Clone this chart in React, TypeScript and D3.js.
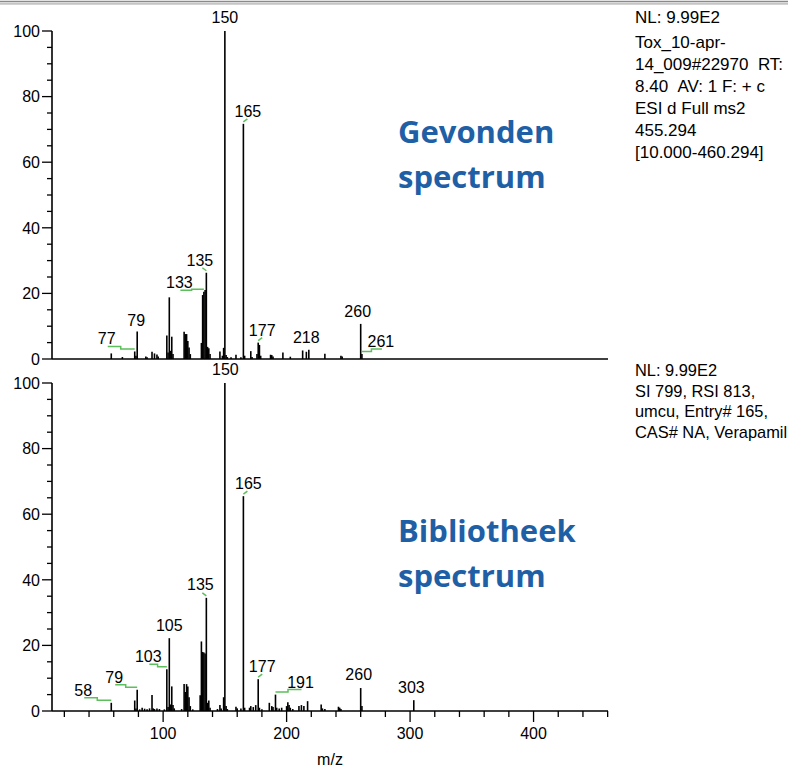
import React from 'react';
import * as d3 from 'd3';

// ---- Data -------------------------------------------------------------
// Found (measured) spectrum: [m/z, relative intensity %]
const foundPeaks: [number, number][] = [
  [58, 1.7], [67, 0.6], [77, 2.3], [78, 1.0], [79, 8.4], [86, 0.8], [87, 0.5],
  [91, 2.2], [93, 1.7], [95, 1.4], [96, 0.8], [103, 7.2], [104, 2.0], [105, 18.8],
  [106, 2.5], [107, 6.8], [108, 1.5], [117, 8.3], [118, 7.6], [119, 7.6], [120, 5.5],
  [121, 3.5], [122, 1.5], [131, 4.9], [132, 19.5], [133, 20.5], [134, 21.0], [135, 26.3],
  [136, 3.7], [137, 3.3], [138, 1.5], [146, 2.3], [148, 1.0], [149, 3.4], [150, 100],
  [151, 1.2], [152, 0.6], [155, 0.5], [159, 1.3], [163, 0.5], [165, 71.7], [166, 1.0],
  [171, 2.4], [172, 0.6], [176, 1.5], [177, 5.0], [178, 4.3], [179, 1.0], [187, 1.3],
  [188, 1.2], [189, 0.8], [197, 2.0], [203, 0.7], [213, 2.6], [216, 2.2], [218, 2.8],
  [231, 1.6], [244, 1.0], [245, 0.8], [260, 10.7], [261, 1.5],
];

// Library spectrum
const libraryPeaks: [number, number][] = [
  [58, 2.5], [77, 3.2], [78, 0.8], [79, 6.5], [81, 0.5], [83, 1.0], [85, 0.7], [87, 0.5],
  [89, 0.8], [91, 4.9], [92, 0.8], [93, 0.6], [95, 0.8], [97, 0.6], [101, 0.5],
  [103, 12.7], [104, 1.2], [105, 22.2], [106, 2.0], [107, 7.5], [108, 1.8], [109, 0.8],
  [115, 0.6], [117, 8.2], [118, 5.8], [119, 8.2], [120, 7.5], [121, 4.2], [122, 1.5],
  [124, 0.5], [130, 4.8], [131, 21.2], [132, 18.0], [133, 17.8], [134, 17.5], [135, 34.5],
  [136, 2.5], [137, 3.2], [138, 1.0], [144, 0.6], [146, 1.8], [147, 0.8], [149, 4.2],
  [150, 100], [151, 1.5], [152, 0.6], [159, 1.3], [160, 0.8], [163, 0.8], [165, 65.5],
  [166, 1.0], [170, 1.0], [171, 1.5], [173, 1.2], [175, 1.8], [177, 9.7], [178, 1.0],
  [180, 0.5], [186, 2.5], [188, 1.5], [189, 1.2], [191, 5.0], [192, 1.0], [194, 0.8],
  [196, 1.0], [200, 1.5], [201, 2.7], [202, 1.8], [203, 1.0], [205, 0.6], [210, 1.5],
  [212, 1.8], [214, 1.5], [217, 3.0], [228, 2.0], [229, 0.8], [231, 0.6], [242, 1.3],
  [243, 1.0], [244, 0.6], [260, 7.0], [261, 1.5], [303, 3.3],
];

const foundLabels = [77, 79, 133, 135, 150, 165, 177, 218, 260, 261];
const libraryLabels = [58, 79, 103, 105, 135, 150, 165, 177, 191, 260, 303];

const yTicks = [0, 20, 40, 60, 80, 100];
const xTickLabels = [100, 200, 300, 400];

const foundInfo = [
  'NL: 9.99E2',
  'Tox_10-apr-',
  '14_009#22970\u00a0\u00a0RT:',
  '8.40\u00a0\u00a0AV: 1 F: + c',
  'ESI d Full ms2',
  '455.294',
  '[10.000-460.294]',
];
const libraryInfo = [
  'NL: 9.99E2',
  'SI 799, RSI 813,',
  'umcu, Entry# 165,',
  'CAS# NA, Verapamil',
];
const foundTitle = ['Gevonden', 'spectrum'];
const libraryTitle = ['Bibliotheek', 'spectrum'];
const xAxisTitle = 'm/z';

// ---- Layout ----------------------------------------------------------
type Leader = 'none' | 'tick' | 'step';
const foundLabelLayout: Record<number, { dx: number; dy?: number; leader: Leader }> = {
  77: { dx: -28, leader: 'step' },
  79: { dx: -1, dy: -5.5, leader: 'none' },
  133: { dx: -24.5, dy: -3.5, leader: 'step' },
  135: { dx: -6.5, leader: 'tick' },
  150: { dx: 0, dy: -8.5, leader: 'none' },
  165: { dx: 4.5, leader: 'tick' },
  177: { dx: 4, leader: 'tick' },
  218: { dx: -2.5, leader: 'none' },
  260: { dx: -3, leader: 'none' },
  261: { dx: 19, leader: 'step' },
};
const libraryLabelLayout: Record<number, { dx: number; dy?: number; leader: Leader }> = {
  58: { dx: -28, leader: 'step' },
  79: { dx: -23, leader: 'step' },
  103: { dx: -18.5, leader: 'step' },
  105: { dx: 0, leader: 'none' },
  135: { dx: -6, dy: -7.8, leader: 'tick' },
  150: { dx: 0.5, dy: -8, leader: 'none' },
  165: { dx: 5, dy: -7.5, leader: 'tick' },
  177: { dx: 4, leader: 'tick' },
  191: { dx: 25, leader: 'step' },
  260: { dx: -2, dy: -8, leader: 'none' },
  303: { dx: -2.4, dy: -7.5, leader: 'none' },
};

const W = 788;
const H = 768;
const X0 = 52;
const X1 = 608;
const FONT = '"Liberation Sans", Arial, sans-serif';
const GREEN = '#5cbf5c';
const BLUE = '#1f5fa6';

const x = d3.scaleLinear().domain([10, 460.294]).range([X0, X1]);

function Panel({
  peaks, labels, layout, y, showXAxis,
}: {
  peaks: [number, number][];
  labels: number[];
  layout: Record<number, { dx: number; dy?: number; leader: Leader }>;
  y: d3.ScaleLinear<number, number>;
  showXAxis: boolean;
}) {
  const minorY = d3.range(0, 101, 5);
  const base = y(0);
  const top = y(100);
  const intensity = new Map(peaks.map((p) => [p[0], p[1]]));
  const minorX = d3.range(20, 461, 20);
  return (
    <g>
      {/* peaks */}
      {peaks.map(([mz, v]) => (
        <line key={mz} x1={x(mz)} x2={x(mz)} y1={base} y2={y(v)} stroke="#000" strokeWidth={1.6} />
      ))}
      {/* axes */}
      <line x1={X0} x2={X0} y1={top} y2={base} stroke="#000" strokeWidth={1.6} />
      <line x1={X0} x2={X1} y1={base} y2={base} stroke="#000" strokeWidth={1.6} />
      {minorY.map((t) => (
        <line key={'ym' + t} x1={t % 20 === 0 ? X0 - 10 : X0 - 5} x2={X0} y1={y(t)} y2={y(t)} stroke="#000" strokeWidth={1.3} />
      ))}
      {yTicks.map((t) => (
        <text key={'yl' + t} x={X0 - 12} y={y(t)} dy="0.36em" textAnchor="end" fontFamily={FONT} fontSize={16} fill="#000">{t}</text>
      ))}
      {showXAxis && minorX.map((t) => (
        <line key={'xm' + t} x1={x(t)} x2={x(t)} y1={base} y2={base + (t % 100 === 0 ? 11 : 6)} stroke="#000" strokeWidth={1.3} />
      ))}
      {showXAxis && xTickLabels.map((t) => (
        <text key={'xl' + t} x={x(t)} y={base + 28} textAnchor="middle" fontFamily={FONT} fontSize={16} fill="#000">{t}</text>
      ))}
      {/* labels */}
      {labels.map((mz) => {
        const l = layout[mz];
        const px = x(mz);
        const pt = y(intensity.get(mz) ?? 0);
        const lx = px + l.dx;
        const ly = pt + (l.dy ?? -7);
        let leader: React.ReactNode = null;
        if (l.leader === 'tick') {
          const pts = l.dx < 0
            ? [[px - 4, pt - 5], [px, pt - 2]]
            : [[px, pt - 2], [px + 4, pt - 5]];
          leader = <polyline points={pts.map((p) => p.join(',')).join(' ')} fill="none" stroke={GREEN} strokeWidth={1.5} />;
        } else if (l.leader === 'step') {
          const mid = (lx + px) / 2;
          const yl = ly + 2;
          const yp = pt - 2.5;
          const pts = l.dx < 0
            ? [[lx + 1, yl], [mid, yl], [mid, yp], [px, yp]]
            : [[px, yp], [mid, yp], [mid, yl], [lx + 1, yl]];
          leader = <polyline points={pts.map((p) => p.join(',')).join(' ')} fill="none" stroke={GREEN} strokeWidth={1.5} />;
        }
        return (
          <g key={'lab' + mz}>
            {leader}
            <text x={lx} y={ly} textAnchor="middle" fontFamily={FONT} fontSize={16} fill="#000">{mz}</text>
          </g>
        );
      })}
    </g>
  );
}

export default function App() {
  const yTop = d3.scaleLinear().domain([0, 100]).range([359, 31]);
  const yBottom = d3.scaleLinear().domain([0, 100]).range([711, 383]);
  return (
    <svg width={W} height={H} style={{ position: 'absolute', left: 0, top: 0, background: '#fff' }}>
      <rect x={0} y={0} width={W} height={H} fill="#fff" />
      {/* window frame */}
      <line x1={0} x2={W} y1={1.5} y2={1.5} stroke="#8a8a8a" strokeWidth={1.5} />
      <line x1={0} x2={W} y1={3.8} y2={3.8} stroke="#c4c4c4" strokeWidth={2} />
      <Panel peaks={foundPeaks} labels={foundLabels} layout={foundLabelLayout} y={yTop} showXAxis={false} />
      <Panel peaks={libraryPeaks} labels={libraryLabels} layout={libraryLabelLayout} y={yBottom} showXAxis={true} />
      <text x={330} y={765} textAnchor="middle" fontFamily={FONT} fontSize={16} fill="#000">{xAxisTitle}</text>
      {/* info blocks */}
      <g fontFamily={FONT} fill="#000">
        {foundInfo.map((t, i) => (
          <text key={'fi' + i} x={635} y={i === 0 ? 23 : 26 + i * 22} fontSize={17}>{t}</text>
        ))}
        {libraryInfo.map((t, i) => (
          <text key={'li' + i} x={635} y={376 + i * 20.5} fontSize={16.4}>{t}</text>
        ))}
      </g>
      {/* titles */}
      <g fontFamily='"Open Sans", sans-serif' fontWeight={700} fontSize={31} fill={BLUE}>
        {foundTitle.map((t, i) => (
          <text key={'ft' + i} x={398} y={143 + i * 45}>{t}</text>
        ))}
        {libraryTitle.map((t, i) => (
          <text key={'lt' + i} x={398} y={542 + i * 45}>{t}</text>
        ))}
      </g>
    </svg>
  );
}
